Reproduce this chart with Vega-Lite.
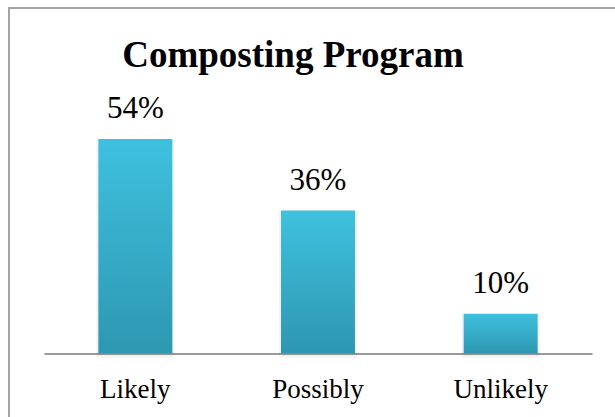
{
  "$schema": "https://vega.github.io/schema/vega-lite/v6.json",
  "autosize": {"type": "none"},
  "width": 606,
  "height": 409,
  "padding": {"left": 9, "top": 8, "right": 0, "bottom": 0},
  "background": "white",
  "config": {
    "font": "Liberation Serif",
    "view": {"stroke": "#a3a3a3", "strokeWidth": 2, "strokeDash": [606, 1015, 409]}
  },
  "title": {
    "text": "Composting Program",
    "font": "Liberation Serif",
    "fontSize": 37,
    "fontWeight": "bold",
    "color": "black",
    "anchor": "middle",
    "baseline": "alphabetic",
    "offset": -96,
    "dx": -19
  },
  "data": {
    "values": [
      {"category": "Likely", "pct": 54, "label": "54%"},
      {"category": "Possibly", "pct": 36, "label": "36%"},
      {"category": "Unlikely", "pct": 10, "label": "10%"}
    ]
  },
  "encoding": {
    "x": {
      "field": "category",
      "type": "nominal",
      "sort": null,
      "scale": {"range": [35, 583], "paddingInner": 0.595, "paddingOuter": 0.2975},
      "axis": {
        "title": null,
        "labelAngle": 0,
        "labelFont": "Liberation Serif",
        "labelFontSize": 27,
        "labelColor": "black",
        "ticks": false,
        "labelPadding": 23,
        "domainColor": "#9a9a9a",
        "domainWidth": 2,
        "offset": -63.5,
        "grid": false
      }
    },
    "y": {
      "field": "pct",
      "type": "quantitative",
      "scale": {"domain": [0, 54], "range": [345.5, 131]},
      "axis": null
    }
  },
  "layer": [
    {
      "mark": {"type": "bar", "fill": null, "stroke": "#000000", "strokeOpacity": 0.05, "strokeWidth": 4, "yOffset": 2}
    },
    {
      "mark": {
        "type": "bar",
        "fill": {
          "gradient": "linear",
          "x1": 0, "y1": 0, "x2": 0, "y2": 1,
          "stops": [
            {"offset": 0, "color": "#3EC1DF"},
            {"offset": 1, "color": "#2E97B1"}
          ]
        }
      }
    },
    {
      "mark": {"type": "text", "baseline": "alphabetic", "dy": -21, "fontSize": 31, "color": "black", "font": "Liberation Serif"},
      "encoding": {"text": {"field": "label"}}
    }
  ]
}
